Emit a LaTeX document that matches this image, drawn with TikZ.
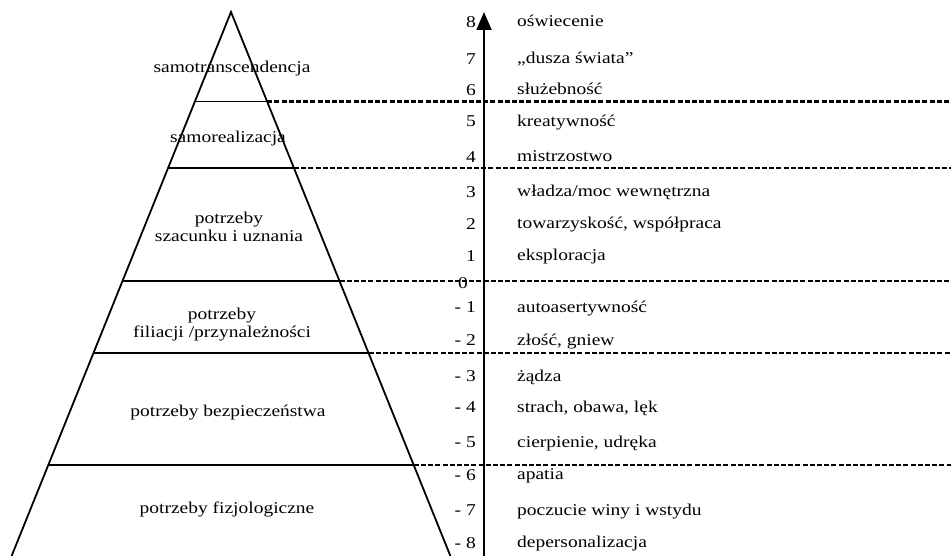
\documentclass[tikz,border=0pt]{standalone}
\usepackage{fontspec}
\setmainfont[FakeStretch=1.18]{Liberation Serif}
\usetikzlibrary{arrows.meta}
\begin{document}
\begin{tikzpicture}[x=1pt,y=-1pt,
  lbl/.style={inner sep=0pt,text height=0.7em,text depth=0.2em,yshift=-3pt,font=\fontsize{16.5}{18.5}\selectfont},
  num/.style={lbl,anchor=east},
  emo/.style={lbl,anchor=west},
  lev/.style={lbl,align=center,anchor=center},
  pedge/.style={line width=1.8pt},
  dashsep/.style={line width=2.4pt,dash pattern=on 5pt off 2.2pt},
  axisarrow/.style={line width=1.9pt,-{Triangle[length=18pt,width=15pt]}}]
\useasboundingbox (0,0) rectangle (951,556);
% pyramid
\coordinate (apex) at (231,12);
\coordinate (bl) at (11.6,556);
\coordinate (br) at (450.4,556);
\draw[pedge] (bl) -- (apex) -- (br);
\coordinate (l1) at (194.9,101.5); \coordinate (r1) at (267.1,101.5);
\coordinate (l2) at (168.1,168);   \coordinate (r2) at (293.9,168);
\coordinate (l3) at (122.5,281);   \coordinate (r3) at (339.5,281);
\coordinate (l4) at (93.5,353);    \coordinate (r4) at (368.5,353);
\coordinate (l5) at (48.3,465);    \coordinate (r5) at (413.7,465);
\coordinate (e1) at (951,101.5);
\coordinate (e2) at (951,168);
\coordinate (e3) at (951,281);
\coordinate (e4) at (951,353);
\coordinate (e5) at (951,465);
% numbers
\node[num] (n8) at (476,22) {8};
\node[num] (n7) at (476,59) {7};
\node[num] (n6) at (476,90) {6};
\node[num] (n5) at (476,121) {5};
\node[num] (n4) at (476,157) {4};
\node[num] (n3) at (476,192) {3};
\node[num] (n2) at (476,224) {2};
\node[num] (n1) at (476,256) {1};
\node[num] (n0) at (468,283.5) {0};
\node[num] (m1) at (476,307) {- 1};
\node[num] (m2) at (476,340) {- 2};
\node[num] (m3) at (476,376) {- 3};
\node[num] (m4) at (476,407) {- 4};
\node[num] (m5) at (476,442) {- 5};
\node[num] (m6) at (476,475) {- 6};
\node[num] (m7) at (476,510) {- 7};
\node[num] (m8) at (476,543) {- 8};
% dashed separators
\foreach \i in {1,...,5} {\draw[dashsep] (r\i) -- (e\i);}
\foreach \i in {1,...,5} {\draw[pedge] (l\i) -- (r\i);}
% axis
\coordinate (ab) at (484,556);
\coordinate (at) at (484,12);
\draw[axisarrow] (ab) -- (at);
% emotions
\node[emo] (t8) at (517,21) {oświecenie};
\node[emo] (t7) at (517,58) {,,dusza świata''};
\node[emo] (t6) at (517,89) {służebność};
\node[emo] (t5) at (517,121) {kreatywność};
\node[emo] (t4) at (517,156) {mistrzostwo};
\node[emo] (t3) at (517,191) {władza/moc wewnętrzna};
\node[emo] (t2) at (517,223) {towarzyskość, współpraca};
\node[emo] (t1) at (517,255) {eksploracja};
\node[emo] (u1) at (517,307) {autoasertywność};
\node[emo] (u2) at (517,340) {złość, gniew};
\node[emo] (u3) at (517,376) {żądza};
\node[emo] (u4) at (517,407) {strach, obawa, lęk};
\node[emo] (u5) at (517,442) {cierpienie, udręka};
\node[emo] (u6) at (517,474) {apatia};
\node[emo] (u7) at (517,510) {poczucie winy i wstydu};
\node[emo] (u8) at (517,542) {depersonalizacja};
% levels
\node[lev] (p1) at (232,67) {samotranscendencja};
\node[lev] (p2) at (228,137) {samorealizacja};
\node[lev] (p3a) at (229,218) {potrzeby};
\node[lev] (p3b) at (229,236) {szacunku i uznania};
\node[lev] (p4a) at (222,314) {potrzeby};
\node[lev] (p4b) at (222,332) {filiacji /przynależności};
\node[lev] (p5) at (228,411) {potrzeby bezpieczeństwa};
\node[lev] (p6) at (227,508) {potrzeby fizjologiczne};
\end{tikzpicture}
\end{document}
